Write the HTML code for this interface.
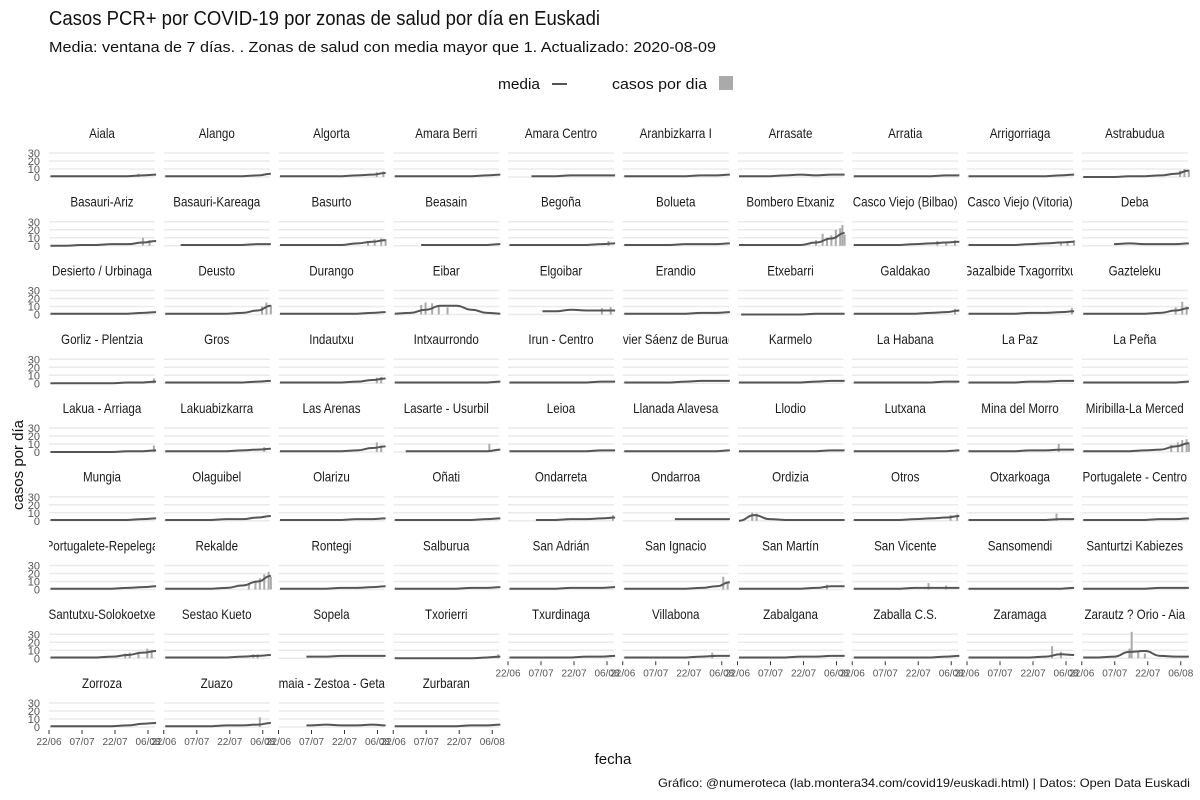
<!DOCTYPE html>
<html><head><meta charset="utf-8">
<style>
body{margin:0;background:#fff;}
svg{display:block;font-family:"Liberation Sans Narrow","Liberation Sans",sans-serif;}
</style></head>
<body>
<svg id="chart" width="1200" height="800" viewBox="0 0 1200 800">
<text x="49" y="25" font-size="20" fill="#111" textLength="551" lengthAdjust="spacingAndGlyphs">Casos PCR+ por COVID-19 por zonas de salud por día en Euskadi</text>
<text x="49" y="52" font-size="15" fill="#111" textLength="667" lengthAdjust="spacingAndGlyphs">Media: ventana de 7 días. . Zonas de salud con media mayor que 1. Actualizado: 2020-08-09</text>
<g>
<text x="498" y="89" font-size="15" fill="#111" textLength="42" lengthAdjust="spacingAndGlyphs">media</text>
<line x1="552" y1="84" x2="567" y2="84" stroke="#555" stroke-width="2"/>
<text x="612" y="89" font-size="15" fill="#111" textLength="95" lengthAdjust="spacingAndGlyphs">casos por dia</text>
<rect x="719" y="76" width="14" height="14" fill="#aaa"/>
</g>
<text transform="translate(23,465) rotate(-90)" text-anchor="middle" font-size="15" fill="#111">casos por día</text>
<text x="613" y="764" text-anchor="middle" font-size="15" fill="#111">fecha</text>
<text x="1190" y="787" text-anchor="end" font-size="12" fill="#111" textLength="532" lengthAdjust="spacingAndGlyphs">Gráfico: @numeroteca (lab.montera34.com/covid19/euskadi.html) | Datos: Open Data Euskadi</text>
<defs id="defs"></defs>
<g id="panels"></g>
</svg>
<script>
// sample days (0 = 22/06) at which the 7-day mean was read
const sampleDays = [0,7,14,21,28,35,42,48];
const yTicks = [0,10,20,30];
const xTickDays = [0,15,30,45];
const xTickLabels = ["22/06","07/07","22/07","06/08"];
const zoneNames = ["Aiala","Alango","Algorta","Amara Berri","Amara Centro","Aranbizkarra I","Arrasate","Arratia","Arrigorriaga","Astrabudua",
"Basauri-Ariz","Basauri-Kareaga","Basurto","Beasain","Begoña","Bolueta","Bombero Etxaniz","Casco Viejo (Bilbao)","Casco Viejo (Vitoria)","Deba",
"Desierto / Urbinaga","Deusto","Durango","Eibar","Elgoibar","Erandio","Etxebarri","Galdakao","Gazalbide Txagorritxu","Gazteleku",
"Gorliz - Plentzia","Gros","Indautxu","Intxaurrondo","Irun - Centro","Javier Sáenz de Buruaga","Karmelo","La Habana","La Paz","La Peña",
"Lakua - Arriaga","Lakuabizkarra","Las Arenas","Lasarte - Usurbil","Leioa","Llanada Alavesa","Llodio","Lutxana","Mina del Morro","Miribilla-La Merced",
"Mungia","Olaguibel","Olarizu","Oñati","Ondarreta","Ondarroa","Ordizia","Otros","Otxarkoaga","Portugalete - Centro",
"Portugalete-Repelega","Rekalde","Rontegi","Salburua","San Adrián","San Ignacio","San Martín","San Vicente","Sansomendi","Santurtzi Kabiezes",
"Santutxu-Solokoetxe","Sestao Kueto","Sopela","Txorierri","Txurdinaga","Villabona","Zabalgana","Zaballa C.S.","Zaramaga","Zarautz ? Orio - Aia",
"Zorroza","Zuazo","Zumaia - Zestoa - Getaria","Zurbaran"];
const startDays = [0,0,0,0,10,0,0,0,0,0, 0,7,0,12,0,0,0,0,0,14, 0,0,0,0,15,0,1,0,0,0, 0,0,0,0,0,0,0,0,0,0, 0,0,0,5,0,0,0,0,0,0, 0,0,0,0,12,23,0,0,0,0, 0,0,0,0,0,0,0,0,0,0, 0,0,12,0,0,0,0,0,0,0, 0,0,12,0];
const meanValues = [
[1,1,1,1,1,1,2,3],[1,1,1,1,1,1,2,4],[1,1,1,1,1,2,3,5],[1,1,1,1,1,1,2,3],[1,1,1,1,2,2,2,2],[1,1,1,1,1,2,2,3],[1,1,1,2,3,2,3,3],[1,1,1,1,1,1,2,2],[1,1,1,1,1,1,2,3],[0,0,0,1,1,2,4,8],
[0,0,1,1,2,2,4,6],[1,1,1,1,1,1,2,2],[1,1,1,1,1,3,5,7],[1,1,1,1,1,1,1,2],[1,1,1,1,1,1,2,3],[1,1,1,1,2,2,2,3],[1,1,1,1,1,4,9,16],[1,1,1,1,2,3,4,5],[1,1,1,1,2,3,4,5],[2,2,2,3,2,2,2,3],
[1,1,1,1,1,1,2,3],[1,1,1,1,1,2,5,11],[1,1,1,1,1,1,2,3],[1,2,6,11,11,6,2,1],[3,3,3,4,6,5,5,5],[1,1,1,1,1,2,2,3],[0,0,0,0,0,1,1,1],[1,1,1,1,1,2,3,5],[1,1,1,1,2,2,3,4],[1,1,1,1,1,2,5,8],
[0,0,0,0,0,1,1,2],[1,1,1,1,1,1,2,3],[1,1,1,1,1,2,4,6],[1,1,1,1,1,1,1,2],[1,1,1,1,1,1,2,2],[1,1,1,1,2,3,3,3],[1,1,1,1,1,2,3,3],[1,1,1,1,1,1,2,2],[1,1,1,1,2,2,3,3],[1,1,1,1,1,1,1,2],
[0,0,0,0,0,1,1,2],[1,1,1,1,1,2,3,4],[1,1,1,1,1,2,5,7],[1,1,1,1,1,1,1,3],[1,1,1,1,1,1,2,2],[1,1,1,1,1,1,1,2],[1,1,1,1,1,1,2,2],[1,1,1,1,1,1,1,2],[1,1,1,1,2,2,3,3],[1,1,1,1,2,3,7,11],
[1,1,1,1,1,1,2,3],[1,1,1,1,2,2,4,6],[1,1,1,1,1,2,2,3],[1,1,1,1,1,1,2,3],[1,1,1,1,2,2,3,4],[2,2,2,2,2,2,2,2],[0,7,2,1,1,1,1,1],[1,1,1,1,2,3,4,6],[1,1,1,1,1,1,2,2],[1,1,1,1,1,2,2,3],
[1,1,1,1,1,2,3,4],[1,1,1,1,2,5,10,17],[1,1,1,1,2,2,3,4],[1,1,1,1,1,2,2,3],[1,1,1,1,2,2,2,3],[1,1,1,1,1,2,4,9],[1,1,1,1,1,2,4,4],[1,1,1,1,2,2,2,2],[1,1,1,1,1,1,1,2],[1,1,1,1,1,2,2,2],
[1,1,1,1,2,4,7,9],[1,1,1,1,1,2,3,4],[2,2,2,2,3,3,3,3],[0,0,0,0,0,0,1,2],[1,1,1,1,1,2,2,3],[1,1,1,1,1,2,3,3],[1,1,1,1,2,2,3,3],[1,1,1,1,1,1,2,3],[1,1,1,1,1,2,5,4],[1,1,2,8,9,3,2,2],
[1,1,1,1,1,2,4,5],[1,1,1,1,2,2,3,5],[2,2,2,3,2,2,3,2],[1,1,1,1,1,2,2,3]];
// notable daily bars [day, cases]
const dailySpikes = {
"Aiala":[[40,4]],"Algorta":[[44,6],[47,7]],"Astrabudua":[[44,8],[46,10],[48,9]],
"Basauri-Ariz":[[42,10],[45,7]],"Basurto":[[40,6],[43,8],[46,9],[48,8]],"Begoña":[[45,6]],
"Bombero Etxaniz":[[35,7],[38,15],[40,10],[42,13],[44,20],[46,22],[47,26],[48,14]],
"Casco Viejo (Bilbao)":[[38,6],[42,5],[46,7]],"Casco Viejo (Vitoria)":[[42,5],[45,6],[48,7]],
"Deusto":[[44,10],[46,15],[48,12]],"Eibar":[[12,12],[14,15],[17,14],[20,12],[24,9]],"Elgoibar":[[42,8],[46,9]],
"Galdakao":[[46,7]],"Gazalbide Txagorritxu":[[47,8]],"Gazteleku":[[42,9],[45,16],[47,10]],"Gorliz - Plentzia":[[47,6]],
"Indautxu":[[44,7],[46,8]],"Lakua - Arriaga":[[47,8]],"Lakuabizkarra":[[45,6]],"Las Arenas":[[44,12],[46,8]],"Lasarte - Usurbil":[[43,10]],
"Mina del Morro":[[41,10]],"Miribilla-La Merced":[[40,9],[43,12],[45,15],[47,16],[48,12]],"Ondarreta":[[47,7]],
"Ordizia":[[6,10],[8,9]],"Otros":[[44,7],[47,8]],"Otxarkoaga":[[40,9]],
"Rekalde":[[38,8],[41,11],[43,14],[45,19],[47,22],[48,16]],"San Ignacio":[[45,16],[47,10]],"San Martín":[[40,6]],"San Vicente":[[34,8],[42,5]],
"Santutxu-Solokoetxe":[[34,6],[36,7],[40,8],[44,12],[46,10]],"Sestao Kueto":[[40,5],[42,5]],"Villabona":[[40,7]],"Zaramaga":[[38,15],[42,8]],
"Zarautz ? Orio - Aia":[[21,12],[22,33],[25,9],[28,6]],"Zuazo":[[43,12]],"Txorierri":[[47,5]]};

const NS="http://www.w3.org/2000/svg";
const panelsG=document.getElementById('panels');
const defs=document.getElementById('defs');
const colX0=49, colPitch=114.75, panelW=106, rowPitch=68.75, zeroY0=177;
const squish=0.86;
function xScale(c,d){return colX0+c*colPitch+1.5+d*2.2;}
function yScale(r,v){return zeroY0+r*rowPitch-v*0.8;}
function mk(tag,attrs,parent){const e=document.createElementNS(NS,tag);for(const k in attrs)e.setAttribute(k,attrs[k]);parent.appendChild(e);return e;}
const n=zoneNames.length;
for(let i=0;i<n;i++){
  const r=Math.floor(i/10), c=i%10, name=zoneNames[i];
  const px=colX0+c*colPitch, z=yScale(r,0);
  const g=mk('g',{},panelsG);
  
  
  const cp=mk('clipPath',{id:'cp'+i},defs);
  mk('rect',{x:px,y:z-60,width:panelW,height:30},cp);
  const sg=mk('g',{'clip-path':'url(#cp'+i+')'},g);
  const st=mk('text',{x:(px+panelW/2)/squish,y:z-39,transform:'scale('+squish+',1)','text-anchor':'middle','font-size':13.5,fill:'#1a1a1a'},sg);
  st.textContent=name;
  
  
  for(const t of yTicks){
    const gl=mk('line',{x1:px,x2:px+panelW,y1:yScale(r,t),y2:yScale(r,t),stroke:'#ebebeb','stroke-width':1.5},g);
    
    
    if(c===0){
      const tl=mk('text',{x:px-9,y:yScale(r,t)+4,'text-anchor':'end','font-size':11,fill:'#555'},g);
      tl.textContent=t;
      
      
    }
  }
  const s0=startDays[i];
  (dailySpikes[name]||[]).forEach(([d,v])=>{
    const b=mk('rect',{x:xScale(c,d)-1,y:yScale(r,v),width:2,height:v*0.8,fill:'#aaa'},g);
    
    
  });
  const pts=[];
  sampleDays.forEach((d,k)=>{if(d>=s0)pts.push([xScale(c,d),yScale(r,meanValues[i][k])]);});
  if(s0>0)pts.unshift([xScale(c,s0),yScale(r,meanValues[i][sampleDays.findIndex(d=>d>=s0)])]);
  let dstr='M'+pts[0][0]+','+pts[0][1];
  for(let k=1;k<pts.length;k++){
    const p0=pts[k-1],p1=pts[k],mx=(p0[0]+p1[0])/2;
    dstr+=' C'+mx+','+p0[1]+' '+mx+','+p1[1]+' '+p1[0]+','+p1[1];
  }
  const ln=mk('path',{d:dstr,fill:'none',stroke:'#555','stroke-width':2},g);
  
  
  const bottom = (r===8) || (r===7 && c>=4);
  if(bottom){
    xTickDays.forEach((d,k)=>{
      const tx=xScale(c,d)-1.5;
      const tm=mk('line',{x1:tx,x2:tx,y1:z+3,y2:z+7,stroke:'#333','stroke-width':1},g);
      
      
      const tl=mk('text',{x:tx,y:z+18,'text-anchor':'middle','font-size':10,fill:'#555'},g);
      tl.textContent=xTickLabels[k];
      
      
    });
  }
}
</script>
</body></html>
